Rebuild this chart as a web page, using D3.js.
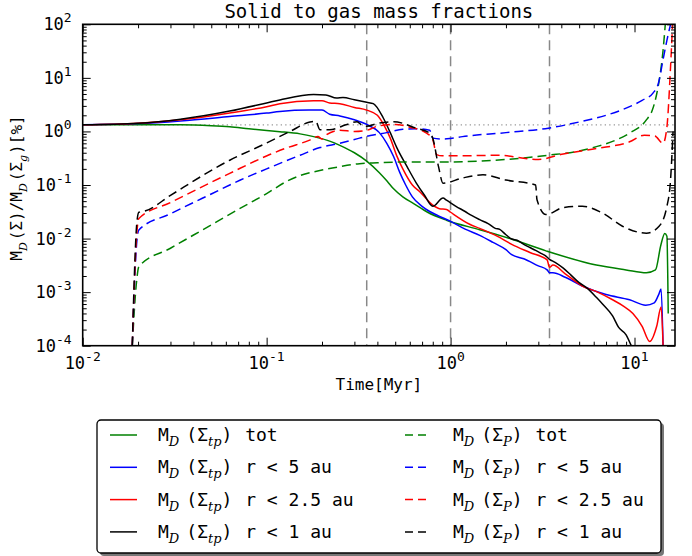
<!DOCTYPE html>
<html>
<head>
<meta charset="utf-8">
<script src="https://d3js.org/d3.v7.min.js"></script>
<style>
  body { margin: 0; background: #fff; }
  text { font-family: "DejaVu Sans Mono", monospace; fill: #000; }
</style>
</head>
<body>
<div id="plot"></div>
<script>
// values: [time in Myr, percent]
const tpTot = [[0.01,1.33],[0.02,1.33],[0.034,1.33],[0.05,1.28],[0.063,1.22],[0.08,1.12],[0.1,1.04],[0.118,0.99],[0.152,0.9],[0.18,0.8],[0.22,0.66],[0.25,0.55],[0.3,0.4],[0.35,0.28],[0.41,0.17],[0.45,0.12],[0.49,0.085],[0.55,0.06],[0.63,0.045],[0.75,0.031],[0.95,0.022],[1.44,0.0146],[2.2,0.0095],[3.3,0.0059],[6.2,0.0032],[9,0.0026],[11.6,0.0023],[13.0,0.0026],[13.9,0.0075],[14.6,0.0125],[15.0,0.011],[15.25,0.0004]];
const tp5 = [[0.01,1.33],[0.02,1.4],[0.034,1.57],[0.063,1.9],[0.1,2.2],[0.118,2.36],[0.17,2.5],[0.2,2.5],[0.22,2.1],[0.25,1.95],[0.3,1.65],[0.35,1.35],[0.41,0.95],[0.45,0.6],[0.49,0.34],[0.53,0.17],[0.57,0.1],[0.62,0.06],[0.7,0.04],[0.77,0.032],[0.85,0.027],[1.0,0.021],[1.2,0.015],[1.44,0.0115],[1.7,0.0085],[2.0,0.0062],[2.15,0.005],[2.5,0.0042],[3.0,0.0031],[3.35,0.0026],[3.45,0.0023],[3.6,0.0023],[4.2,0.0019],[5.2,0.0013],[7,0.0009],[9.4,0.00072],[11.5,0.00057],[12.8,0.00063],[13.6,0.00094],[13.95,0.00115],[14.3,0.0001]];
const tp25 = [[0.01,1.33],[0.02,1.42],[0.034,1.65],[0.063,2.2],[0.1,2.9],[0.118,3.3],[0.18,3.75],[0.2,3.75],[0.22,3.4],[0.25,3.3],[0.3,2.8],[0.35,2.5],[0.4,2.0],[0.44,1.2],[0.47,0.75],[0.51,0.35],[0.55,0.2],[0.62,0.1],[0.68,0.075],[0.8,0.042],[0.87,0.036],[0.95,0.035],[1.0,0.031],[1.27,0.0185],[1.44,0.0155],[1.8,0.011],[2.15,0.0078],[2.7,0.0055],[3.35,0.004],[3.45,0.0029],[3.6,0.0032],[4.2,0.0022],[5.2,0.0013],[6.3,0.001],[7.6,0.00072],[8.7,0.00055],[9.8,0.0004],[11,0.00023],[12.1,0.00012],[13.2,0.00023],[13.95,0.00053],[14.3,0.0001]];
const tp1 = [[0.01,1.33],[0.02,1.42],[0.034,1.69],[0.063,2.4],[0.1,3.4],[0.118,3.87],[0.18,4.9],[0.21,4.8],[0.24,4.2],[0.26,4.3],[0.3,3.9],[0.35,3.5],[0.38,3.3],[0.43,1.8],[0.47,0.95],[0.51,0.5],[0.58,0.22],[0.65,0.11],[0.72,0.065],[0.8,0.04],[0.91,0.057],[0.95,0.052],[1.07,0.04],[1.2,0.032],[1.3,0.027],[1.44,0.0225],[1.6,0.019],[1.75,0.0155],[1.85,0.0148],[2.0,0.0118],[2.15,0.0098],[2.3,0.0093],[2.5,0.0078],[2.7,0.0068],[2.9,0.006],[3.1,0.0053],[3.3,0.0047],[3.45,0.0041],[3.7,0.0036],[4.1,0.0028],[4.5,0.0021],[5.0,0.0015],[5.5,0.0012],[6.2,0.0008],[6.7,0.0006],[7.6,0.00036],[8.2,0.00022],[9.0,0.00016],[9.6,0.0001]];

const pTot = [[0.0186,0.0001],[0.0196,0.0015],[0.0202,0.003],[0.03,0.0066],[0.05,0.018],[0.07,0.035],[0.1,0.069],[0.128,0.116],[0.152,0.15],[0.2,0.19],[0.25,0.22],[0.32,0.25],[0.4,0.26],[0.6,0.27],[1.0,0.27],[2,0.3],[3.4,0.36],[5,0.43],[6.2,0.52],[8,0.7],[9.4,0.93],[11.6,1.64],[12.5,2.5],[13.2,5],[13.8,12],[14.3,33],[14.7,100]];
const p5 = [[0.0186,0.0001],[0.0197,0.009],[0.0202,0.0145],[0.03,0.029],[0.05,0.068],[0.072,0.124],[0.1,0.2],[0.152,0.36],[0.195,0.5],[0.25,0.6],[0.32,0.75],[0.38,0.86],[0.45,0.95],[0.55,1.1],[0.65,1.12],[0.77,1.05],[0.8,0.75],[0.9,0.72],[1.0,0.74],[1.16,0.8],[2,0.95],[3.4,1.15],[5,1.5],[7,2.0],[9.4,2.9],[11,3.8],[12.6,5.2],[13.5,8],[14.3,22],[15,50],[15.7,100]];
const p25 = [[0.0186,0.0001],[0.0197,0.013],[0.0202,0.0236],[0.03,0.047],[0.063,0.165],[0.104,0.37],[0.128,0.49],[0.17,0.68],[0.19,0.8],[0.2,0.72],[0.21,0.85],[0.25,1.05],[0.3,1.0],[0.35,1.05],[0.4,1.25],[0.5,1.35],[0.6,1.2],[0.74,0.93],[0.8,0.7],[0.84,0.37],[0.9,0.35],[1.16,0.35],[1.8,0.36],[3.0,0.3],[4.1,0.38],[6.2,0.48],[9.4,0.64],[11.3,0.85],[12.9,0.82],[14.3,0.6],[15.0,1.2],[15.7,16],[16.1,100]];
const p1 = [[0.0186,0.0001],[0.0197,0.02],[0.0202,0.031],[0.022,0.033],[0.03,0.064],[0.063,0.29],[0.095,0.56],[0.134,1.0],[0.172,1.5],[0.185,1.55],[0.195,1.07],[0.22,1.07],[0.27,1.33],[0.31,1.52],[0.33,1.3],[0.35,1.25],[0.4,1.41],[0.49,1.52],[0.65,1.15],[0.77,0.93],[0.8,0.75],[0.86,0.22],[0.91,0.108],[1.16,0.135],[1.5,0.155],[2.0,0.124],[2.9,0.1],[2.95,0.053],[3.3,0.028],[4.1,0.038],[5.2,0.04],[6.7,0.03],[8.6,0.017],[11.6,0.0126],[13.6,0.017],[15,0.04],[15.7,0.125],[16.2,1.0]];

const refLevel = 1.33;              // dotted line, initial ratio
const markTimes = [0.35, 1.0, 3.45]; // vertical dashed lines
const xMajor = [0.01, 0.1, 1, 10];
const yMajor = [1e-4, 1e-3, 1e-2, 1e-1, 1, 10, 100];

const series = [
  { data: tpTot, color: "green", dashed: false, sub: "tp", txt: "tot" },
  { data: tp5,   color: "blue",  dashed: false, sub: "tp", txt: "r < 5 au" },
  { data: tp25,  color: "red",   dashed: false, sub: "tp", txt: "r < 2.5 au" },
  { data: tp1,   color: "black", dashed: false, sub: "tp", txt: "r < 1 au" },
  { data: pTot,  color: "green", dashed: true,  sub: "P",  txt: "tot" },
  { data: p5,    color: "blue",  dashed: true,  sub: "P",  txt: "r < 5 au" },
  { data: p25,   color: "red",   dashed: true,  sub: "P",  txt: "r < 2.5 au" },
  { data: p1,    color: "black", dashed: true,  sub: "P",  txt: "r < 1 au" }
];

const W = 692, H = 556;
const margin = { top: 24.3, right: 17, bottom: 210.3, left: 82.7 },
      width = W - margin.left - margin.right,
      height = H - margin.top - margin.bottom;

const root = d3.select("#plot").append("svg")
  .attr("width", W).attr("height", H);
const svg = root.append("g")
  .attr("transform", `translate(${margin.left},${margin.top})`);

const x = d3.scaleLog().domain([0.01, 16.6]).range([0, width]);
const y = d3.scaleLog().domain([1e-4, 100]).range([height, 0]);

svg.append("clipPath").attr("id", "clip")
  .append("rect").attr("width", width).attr("height", height);

const plotArea = svg.append("g").attr("clip-path", "url(#clip)");

// reference lines
plotArea.append("line")
  .attr("x1", 0).attr("x2", width)
  .attr("y1", y(refLevel)).attr("y2", y(refLevel))
  .attr("stroke", "#999").attr("stroke-width", 1.3)
  .attr("stroke-dasharray", "1.3,3.2");

plotArea.selectAll(".vmark").data(markTimes).enter().append("line")
  .attr("class", "vmark")
  .attr("x1", d => x(d)).attr("x2", d => x(d))
  .attr("y1", 0).attr("y2", height)
  .attr("stroke", "#888").attr("stroke-width", 1.5)
  .attr("stroke-dasharray", "10,6");

const line = d3.line()
  .x(d => x(d[0]))
  .y(d => y(d[1]))
  .curve(d3.curveMonotoneX);

plotArea.selectAll(".curve").data(series).enter().append("path")
  .attr("class", "curve")
  .attr("d", d => line(d.data))
  .attr("fill", "none")
  .attr("stroke", d => d.color)
  .attr("stroke-width", 1.5)
  .attr("stroke-dasharray", d => d.dashed ? "9,5" : null);

// minor tick positions
const minor = (lo, hi) => {
  const out = [];
  for (let e = lo; e < hi; e++) for (let k = 2; k <= 9; k++) out.push(k * Math.pow(10, e));
  return out;
};
const xMinor = minor(-2, 2).filter(v => v <= 16.6);
const yMinor = minor(-4, 2);

function styleAxis(g) {
  g.select(".domain").remove();
  g.selectAll("line").attr("stroke", "#000").attr("stroke-width", 1);
}

svg.append("g").attr("transform", `translate(0,${height})`)
  .call(d3.axisBottom(x).tickValues(xMajor).tickSize(-8).tickFormat(""))
  .call(styleAxis);
svg.append("g").attr("transform", `translate(0,${height})`)
  .call(d3.axisBottom(x).tickValues(xMinor).tickSize(-4).tickFormat(""))
  .call(styleAxis);
svg.append("g")
  .call(d3.axisTop(x).tickValues(xMajor).tickSize(-8).tickFormat(""))
  .call(styleAxis);
svg.append("g")
  .call(d3.axisTop(x).tickValues(xMinor).tickSize(-4).tickFormat(""))
  .call(styleAxis);
svg.append("g")
  .call(d3.axisLeft(y).tickValues(yMajor).tickSize(-8).tickFormat(""))
  .call(styleAxis);
svg.append("g")
  .call(d3.axisLeft(y).tickValues(yMinor).tickSize(-4).tickFormat(""))
  .call(styleAxis);
svg.append("g").attr("transform", `translate(${width},0)`)
  .call(d3.axisRight(y).tickValues(yMajor).tickSize(-8).tickFormat(""))
  .call(styleAxis);
svg.append("g").attr("transform", `translate(${width},0)`)
  .call(d3.axisRight(y).tickValues(yMinor).tickSize(-4).tickFormat(""))
  .call(styleAxis);

// frame
svg.append("rect")
  .attr("width", width).attr("height", height)
  .attr("fill", "none").attr("stroke", "#000").attr("stroke-width", 1.6);

// tick labels 10^n
function powLabel(sel, v) {
  const e = Math.round(Math.log10(v));
  sel.append("tspan").text("10");
  sel.append("tspan").attr("dy", -8).style("font-size", "13px").text(e);
}

svg.selectAll(".xlab").data(xMajor).enter().append("text")
  .attr("class", "xlab")
  .attr("x", d => x(d)).attr("y", height + 23)
  .attr("text-anchor", "middle")
  .style("font-size", "17px")
  .each(function(d) { powLabel(d3.select(this), d); });

svg.selectAll(".ylab").data(yMajor).enter().append("text")
  .attr("class", "ylab")
  .attr("x", -11).attr("y", d => y(d) + 6)
  .attr("text-anchor", "end")
  .style("font-size", "17px")
  .each(function(d) { powLabel(d3.select(this), d); });

// axis titles
svg.append("text")
  .attr("x", width / 2).attr("y", height + 44)
  .attr("text-anchor", "middle")
  .style("font-size", "16px")
  .text("Time[Myr]");

svg.append("text")
  .attr("x", width / 2).attr("y", -6)
  .attr("text-anchor", "middle")
  .style("font-size", "19px")
  .text("Solid to gas mass fractions");

// text with math subscripts: parts = [[text, isSub, dx], ...]
function mathText(sel, parts, subSize) {
  let down = false;
  parts.forEach(p => {
    const t = sel.append("tspan").text(p[0]);
    if (p[1] && !down) { t.attr("dy", 5); down = true; }
    else if (!p[1] && down) { t.attr("dy", -5); down = false; }
    if (p[1]) t.style("font-family", "DejaVu Serif").style("font-style", "italic").style("font-size", subSize);
    if (p[2]) t.attr("dx", p[2]);
  });
}

const ylab = svg.append("text")
  .attr("transform", `translate(-61,${height / 2 + 3}) rotate(-90)`)
  .attr("text-anchor", "middle")
  .style("font-size", "16px");
mathText(ylab, [["M"], ["D", true], ["(Σ)/M", false, 2], ["D", true], ["(Σ", false, 2], ["g", true], [")[%]", false, 1]], "11px");

// legend
const legend = root.append("g").attr("transform", "translate(97,420)");
legend.append("rect").attr("x", 3).attr("y", 3).attr("width", 564).attr("height", 133)
  .attr("rx", 4).attr("fill", "#777");
legend.append("rect").attr("width", 564).attr("height", 133)
  .attr("rx", 4).attr("fill", "#fff").attr("stroke", "#000").attr("stroke-width", 1.3);

const items = legend.selectAll(".item").data(series).enter().append("g")
  .attr("class", "item")
  .attr("transform", (d, i) => `translate(${i < 4 ? 13 : 308},${15 + (i % 4) * 32.3})`);

items.append("line")
  .attr("x1", 0).attr("x2", d => d.dashed ? 25 : 27)
  .attr("stroke", d => d.color)
  .attr("stroke-width", 1.5)
  .attr("stroke-dasharray", d => d.dashed ? "8,5" : null);

items.each(function(d) {
  const t = d3.select(this).append("text")
    .attr("x", 48).attr("y", 6)
    .style("font-size", "18px");
  mathText(t, [["M"], ["D", true], ["(", false, 7], ["Σ"], [d.sub, true], [")"], [" " + d.txt, false, 2]], "13px");
});
</script>
</body>
</html>
